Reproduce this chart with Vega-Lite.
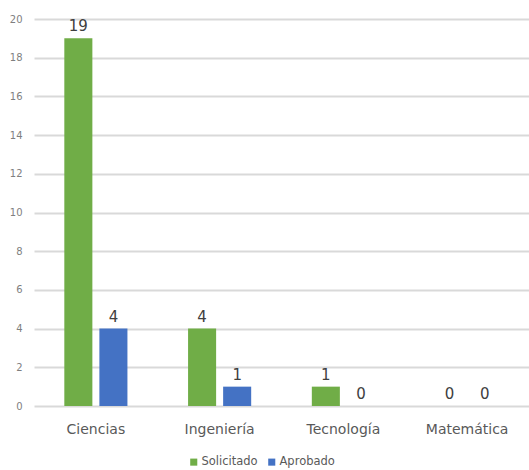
{
  "$schema": "https://vega.github.io/schema/vega-lite/v6.json",
  "width": 495,
  "height": 387,
  "autosize": {"type": "none"},
  "padding": {"left": 34, "top": 19, "right": 0, "bottom": 64},
  "background": "white",
  "config": {"view": {"stroke": null}, "font": "Liberation Sans"},
  "data": {"values": [
    {"area": "Ciencias", "serie": "Solicitado", "valor": 19},
    {"area": "Ciencias", "serie": "Aprobado", "valor": 4},
    {"area": "Ingeniería", "serie": "Solicitado", "valor": 4},
    {"area": "Ingeniería", "serie": "Aprobado", "valor": 1},
    {"area": "Tecnología", "serie": "Solicitado", "valor": 1},
    {"area": "Tecnología", "serie": "Aprobado", "valor": 0},
    {"area": "Matemática", "serie": "Solicitado", "valor": 0},
    {"area": "Matemática", "serie": "Aprobado", "valor": 0}
  ]},
  "encoding": {
    "x": {"field": "area", "type": "nominal", "sort": ["Ciencias", "Ingeniería", "Tecnología", "Matemática"],
      "scale": {"paddingInner": 0.49, "paddingOuter": 0.245},
      "axis": {"title": null, "labelAngle": 0, "ticks": false, "domain": false, "labelPadding": 16, "labelFontSize": 14, "labelColor": "#595959", "labelFont": "DejaVu Sans"}},
    "xOffset": {"field": "serie", "type": "nominal", "sort": ["Solicitado", "Aprobado"], "scale": {"paddingInner": 0.2, "paddingOuter": 0}},
    "y": {"field": "valor", "type": "quantitative", "scale": {"domain": [0, 20]},
      "axis": {"title": null, "values": [0,2,4,6,8,10,12,14,16,18,20], "labelOverlap": false, "ticks": false, "domain": false, "labelPadding": 12, "labelFontSize": 10, "labelColor": "#7f7f7f", "gridColor": "#d9d9d9", "gridWidth": 2, "labelFont": "DejaVu Sans"}}
  },
  "layer": [
    {"mark": {"type": "bar"},
     "encoding": {"color": {"field": "serie", "type": "nominal", "sort": ["Solicitado", "Aprobado"],
       "scale": {"domain": ["Solicitado", "Aprobado"], "range": ["#70ad47", "#4472c4"]},
       "legend": {"title": null, "orient": "none", "direction": "horizontal", "legendX": 154, "legendY": 437, "symbolType": "square", "symbolSize": 50, "labelFontSize": 11.5, "labelColor": "#595959", "labelFont": "DejaVu Sans", "columnPadding": 8, "labelOffset": 2}}}},
    {"mark": {"type": "text", "baseline": "bottom", "dy": -4, "fontSize": 15, "color": "#404040", "font": "DejaVu Sans"},
     "encoding": {"text": {"field": "valor", "type": "quantitative"}}}
  ]
}
